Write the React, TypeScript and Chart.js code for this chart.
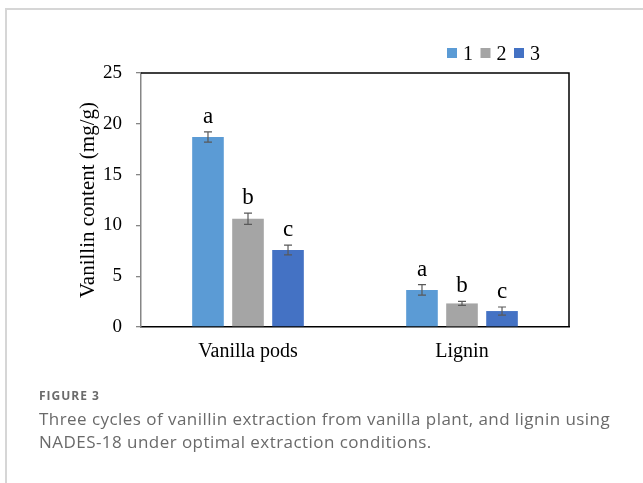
import React, { useEffect, useRef } from "react";
import { Chart, registerables } from "chart.js";

Chart.register(...registerables);

const categories = ["Vanilla pods", "Lignin"];
const seriesLabels = ["1", "2", "3"];
const cycle1 = [18.7, 3.65];
const cycle2 = [10.65, 2.32];
const cycle3 = [7.58, 1.57];
const err1 = [0.5, 0.52];
const err2 = [0.55, 0.2];
const err3 = [0.48, 0.4];
const letters1 = ["a", "a"];
const letters2 = ["b", "b"];
const letters3 = ["c", "c"];
const yTicks = [0, 5, 10, 15, 20, 25];

const colors = ["#5B9BD5", "#A5A5A5", "#4472C4"];
const SERIF = "'Liberation Serif', 'Times New Roman', serif";

const extrasPlugin = {
  id: "extras",
  afterDatasetsDraw(chart: any) {
    const { ctx, chartArea, scales } = chart;
    const y = scales.y;
    const errs = [err1, err2, err3];
    const lets = [letters1, letters2, letters3];
    const vals = [cycle1, cycle2, cycle3];
    ctx.save();
    chart.data.datasets.forEach((ds: any, di: number) => {
      const meta = chart.getDatasetMeta(di);
      meta.data.forEach((bar: any, i: number) => {
        const v = vals[di][i];
        const e = errs[di][i];
        const top = y.getPixelForValue(v + e);
        const bot = y.getPixelForValue(v - e);
        const x = bar.x;
        ctx.strokeStyle = "#595959";
        ctx.lineWidth = 1.2;
        ctx.beginPath();
        ctx.moveTo(x, top);
        ctx.lineTo(x, bot);
        ctx.moveTo(x - 4, top);
        ctx.lineTo(x + 4, top);
        ctx.moveTo(x - 4, bot);
        ctx.lineTo(x + 4, bot);
        ctx.stroke();
        ctx.fillStyle = "#000";
        ctx.font = `23px ${SERIF}`;
        ctx.textAlign = "center";
        ctx.textBaseline = "alphabetic";
        ctx.fillText(lets[di][i], x, top - 9);
      });
    });
    ctx.strokeStyle = "#000";
    ctx.lineWidth = 1.5;
    ctx.beginPath();
    ctx.moveTo(chartArea.left, chartArea.top);
    ctx.lineTo(chartArea.right, chartArea.top);
    ctx.lineTo(chartArea.right, chartArea.bottom);
    ctx.stroke();
    let lx = chartArea.right - 122;
    const ly = chartArea.top - 25;
    ctx.font = `20px ${SERIF}`;
    ctx.textAlign = "left";
    ctx.textBaseline = "alphabetic";
    chart.data.datasets.forEach((ds: any) => {
      ctx.fillStyle = ds.backgroundColor;
      ctx.fillRect(lx, ly, 10, 10);
      ctx.fillStyle = "#000";
      ctx.fillText(ds.label, lx + 16, ly + 11.5);
      lx += 16 + ctx.measureText(ds.label).width + 7.5;
    });
    ctx.restore();
  },
};

export default function App() {
  const ref = useRef<HTMLCanvasElement>(null);
  useEffect(() => {
    if (!ref.current) return;
    const chart = new Chart(ref.current, {
      type: "bar",
      data: {
        labels: categories,
        datasets: [cycle1, cycle2, cycle3].map((d, i) => ({
          label: seriesLabels[i],
          data: d,
          backgroundColor: colors[i],
          borderWidth: 0,
          barPercentage: 0.79,
          categoryPercentage: 0.561,
        })),
      },
      options: {
        animation: false,
        responsive: false,
        maintainAspectRatio: false,
        devicePixelRatio: 1,
        layout: { padding: { left: 0, right: 74, top: 73, bottom: 116 } },
        plugins: { legend: { display: false }, tooltip: { enabled: false } },
        scales: {
          x: {
            grid: { display: false, drawTicks: false },
            border: { display: true, color: "#000", width: 1.5 },
            ticks: { font: { family: SERIF, size: 20 }, color: "#000", padding: 13 },
            afterFit: (s: any) => {
              s.height = 40;
            },
          },
          y: {
            min: 0,
            max: 25,
            afterBuildTicks: (s: any) => {
              s.ticks = yTicks.map((v) => ({ value: v }));
            },
            ticks: { font: { family: SERIF, size: 19 }, color: "#000", padding: 14 },
            grid: {
              display: true,
              drawOnChartArea: false,
              drawTicks: true,
              tickLength: 5,
              color: "#868686",
              lineWidth: 1.3,
            },
            border: { display: true, color: "#868686", width: 1.5 },
            title: {
              display: true,
              text: "Vanillin content (mg/g)",
              font: { family: SERIF, size: 21 },
              color: "#000",
              padding: { top: 76, bottom: 0 },
            },
            afterFit: (s: any) => {
              s.width = 141;
            },
          },
        },
      } as any,
      plugins: [extrasPlugin],
    });
    return () => chart.destroy();
  }, []);

  return (
    <div
      style={{
        position: "fixed",
        left: 0,
        top: 0,
        width: 643,
        height: 483,
        background: "#fff",
        overflow: "hidden",
      }}
    >
      <div
        style={{
          position: "absolute",
          left: 5,
          top: 8,
          width: 700,
          height: 600,
          borderTop: "2px solid #d6d6d6",
          borderLeft: "2px solid #d6d6d6",
        }}
      />
      <canvas
        ref={ref}
        width={643}
        height={483}
        style={{ position: "absolute", left: 0, top: 0, width: 643, height: 483 }}
      />
      <div
        style={{
          position: "absolute",
          left: 39,
          top: 390,
          fontFamily: "'Open Sans', sans-serif",
          fontSize: 12,
          lineHeight: "12px",
          fontWeight: 700,
          letterSpacing: "1px",
          color: "#6b6b6b",
          whiteSpace: "nowrap",
        }}
      >
        FIGURE 3
      </div>
      <div
        style={{
          position: "absolute",
          left: 39,
          top: 408,
          fontFamily: "'Open Sans', sans-serif",
          fontSize: 17,
          lineHeight: "22.5px",
          fontWeight: 400,
          letterSpacing: "0.45px",
          color: "#6a6a6a",
          whiteSpace: "nowrap",
        }}
      >
        Three cycles of vanillin extraction from vanilla plant, and lignin using
        <br />
        NADES-18 under optimal extraction conditions.
      </div>
    </div>
  );
}
